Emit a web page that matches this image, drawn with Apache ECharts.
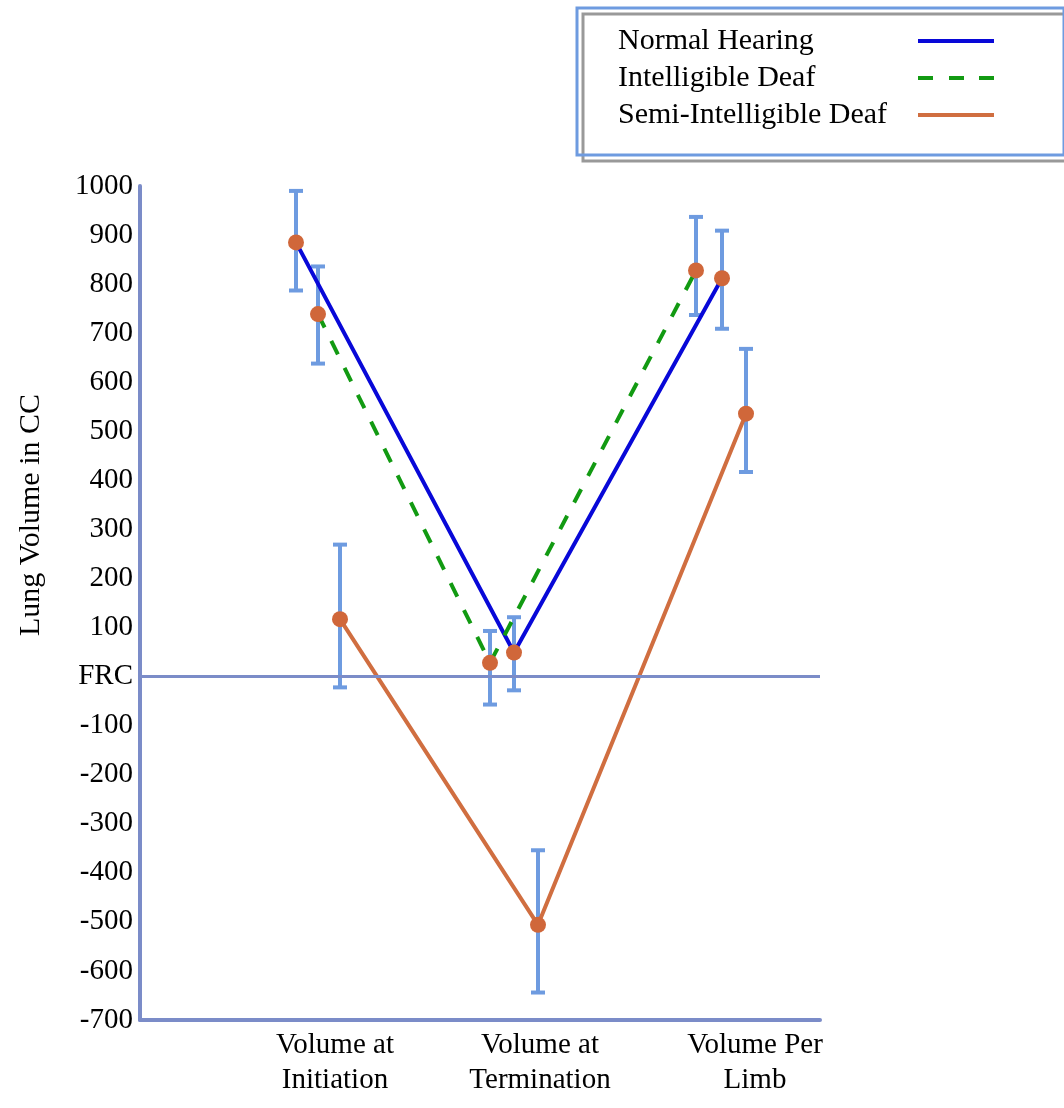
<!DOCTYPE html>
<html>
<head>
<meta charset="utf-8">
<script src="https://cdn.jsdelivr.net/npm/echarts@6/dist/echarts.min.js"></script>
<style>
html,body{margin:0;padding:0;background:#fff;}
#chart{width:1064px;height:1108px;}
</style>
</head>
<body>
<div id="chart"></div>
<script>
// ---- data ----
const categories = ['Volume at\nInitiation', 'Volume at\nTermination', 'Volume Per\nLimb'];
const categoryX = [0.975, 2.0, 3.075];
const seriesNames = ['Normal Hearing', 'Intelligible Deaf', 'Semi-Intelligible Deaf'];

const normalX = [0.78, 1.87, 2.91];
const normalY = [885, 49, 812];
const normalLow = [787, -28, 709];
const normalHigh = [990, 121, 909];

const intelX = [0.89, 1.75, 2.78];
const intelY = [739, 28, 828];
const intelLow = [638, -57, 737];
const intelHigh = [836, 93, 937];

const semiX = [1.0, 1.99, 3.03];
const semiY = [117, -506, 536];
const semiLow = [-22, -644, 417];
const semiHigh = [269, -354, 668];

const yTickZeroLabel = 'FRC';

// ---- styles ----
const FONT = "'Liberation Serif', 'Times New Roman', serif";
const AXIS_COLOR = '#7b8cc8';
const ERR_COLOR = '#6e9be0';
const MARKER_COLOR = '#d0673a';
const colors = ['#0808d8', '#129a12', '#d06e40'];
const solidIcon = 'path://M0,0H76V4H0Z';
const dashIcon = 'path://M0,0H15V4H0Z M31,0H46V4H31Z M61,0H76V4H61Z';

const pairs = (xs, ys) => xs.map((x, i) => [x, ys[i]]);
const errData = []
  .concat(normalX.map((x, i) => [x, normalLow[i], normalHigh[i]]))
  .concat(intelX.map((x, i) => [x, intelLow[i], intelHigh[i]]))
  .concat(semiX.map((x, i) => [x, semiLow[i], semiHigh[i]]));
const allPoints = [].concat(pairs(normalX, normalY), pairs(intelX, intelY), pairs(semiX, semiY));

const chart = echarts.init(document.getElementById('chart'));
chart.setOption({
  animation: false,
  backgroundColor: '#fff',
  grid: { left: 140, right: 244, top: 186, bottom: 88 },
  legend: {
    data: [
      { name: seriesNames[0], icon: solidIcon },
      { name: seriesNames[1], icon: dashIcon },
      { name: seriesNames[2], icon: solidIcon }
    ],
    orient: 'vertical',
    left: 577, top: 8,
    align: 'right',
    padding: [18, 70, 25, 41],
    itemGap: 7,
    itemWidth: 76, itemHeight: 4,
    borderColor: ERR_COLOR, borderWidth: 3,
    formatter: '{t|{name}}',
    textStyle: {
      rich: { t: { fontFamily: FONT, fontSize: 30, color: '#000', width: 295, align: 'left' } }
    },
    z: 10
  },
  graphic: [
    { type: 'rect', shape: { x: 583, y: 14, width: 500, height: 147 },
      style: { fill: 'none', stroke: '#999', lineWidth: 3 }, z: 1 },
    { type: 'text', x: 31, y: 515, rotation: Math.PI / 2,
      style: { text: 'Lung Volume in CC', font: '30px ' + FONT, fill: '#000', align: 'center', verticalAlign: 'middle' } }
  ],
  xAxis: {
    type: 'value', min: 0, max: 3.4,
    axisLine: { show: true, onZero: false, lineStyle: { color: AXIS_COLOR, width: 4 } },
    axisTick: { show: false },
    splitLine: { show: false },
    axisLabel: {
      customValues: categoryX,
      formatter: v => { const i = categoryX.findIndex(c => Math.abs(c - v) < 1e-6); return i >= 0 ? categories[i] : ''; },
      fontFamily: FONT, fontSize: 29, color: '#000', lineHeight: 35, margin: 8
    }
  },
  yAxis: {
    type: 'value', min: -700, max: 1000, interval: 100,
    axisLine: { show: true, lineStyle: { color: AXIS_COLOR, width: 4 } },
    axisTick: { show: false },
    splitLine: { show: false },
    axisLabel: {
      formatter: v => v === 0 ? yTickZeroLabel : String(v),
      fontFamily: FONT, fontSize: 29, color: '#000', margin: 7
    }
  },
  series: [
    {
      type: 'custom', name: 'errorbars', z: 1,
      data: errData,
      renderItem: (params, api) => {
        const x = api.value(0);
        const lo = api.coord([x, api.value(1)]);
        const hi = api.coord([x, api.value(2)]);
        const hw = 7;
        const st = { stroke: ERR_COLOR, lineWidth: 4 };
        return { type: 'group', children: [
          { type: 'line', shape: { x1: lo[0], y1: lo[1], x2: hi[0], y2: hi[1] }, style: st },
          { type: 'line', shape: { x1: lo[0] - hw, y1: lo[1], x2: lo[0] + hw, y2: lo[1] }, style: st },
          { type: 'line', shape: { x1: hi[0] - hw, y1: hi[1], x2: hi[0] + hw, y2: hi[1] }, style: st }
        ]};
      },
      markLine: {
        silent: true, symbol: ['none', 'none'], label: { show: false },
        lineStyle: { color: AXIS_COLOR, width: 3, type: 'solid' },
        data: [{ yAxis: 0 }]
      }
    },
    { type: 'line', name: seriesNames[0], data: pairs(normalX, normalY), symbol: 'none', z: 3,
      lineStyle: { color: colors[0], width: 4 }, itemStyle: { color: colors[0] } },
    { type: 'line', name: seriesNames[1], data: pairs(intelX, intelY), symbol: 'none', z: 3,
      lineStyle: { color: colors[1], width: 4, type: [15, 15] }, itemStyle: { color: colors[1] } },
    { type: 'line', name: seriesNames[2], data: pairs(semiX, semiY), symbol: 'none', z: 3,
      lineStyle: { color: colors[2], width: 4 }, itemStyle: { color: colors[2] } },
    { type: 'scatter', name: 'markers', data: allPoints, symbolSize: 16, z: 5,
      itemStyle: { color: MARKER_COLOR, opacity: 1 } }
  ]
});
</script>
</body>
</html>
